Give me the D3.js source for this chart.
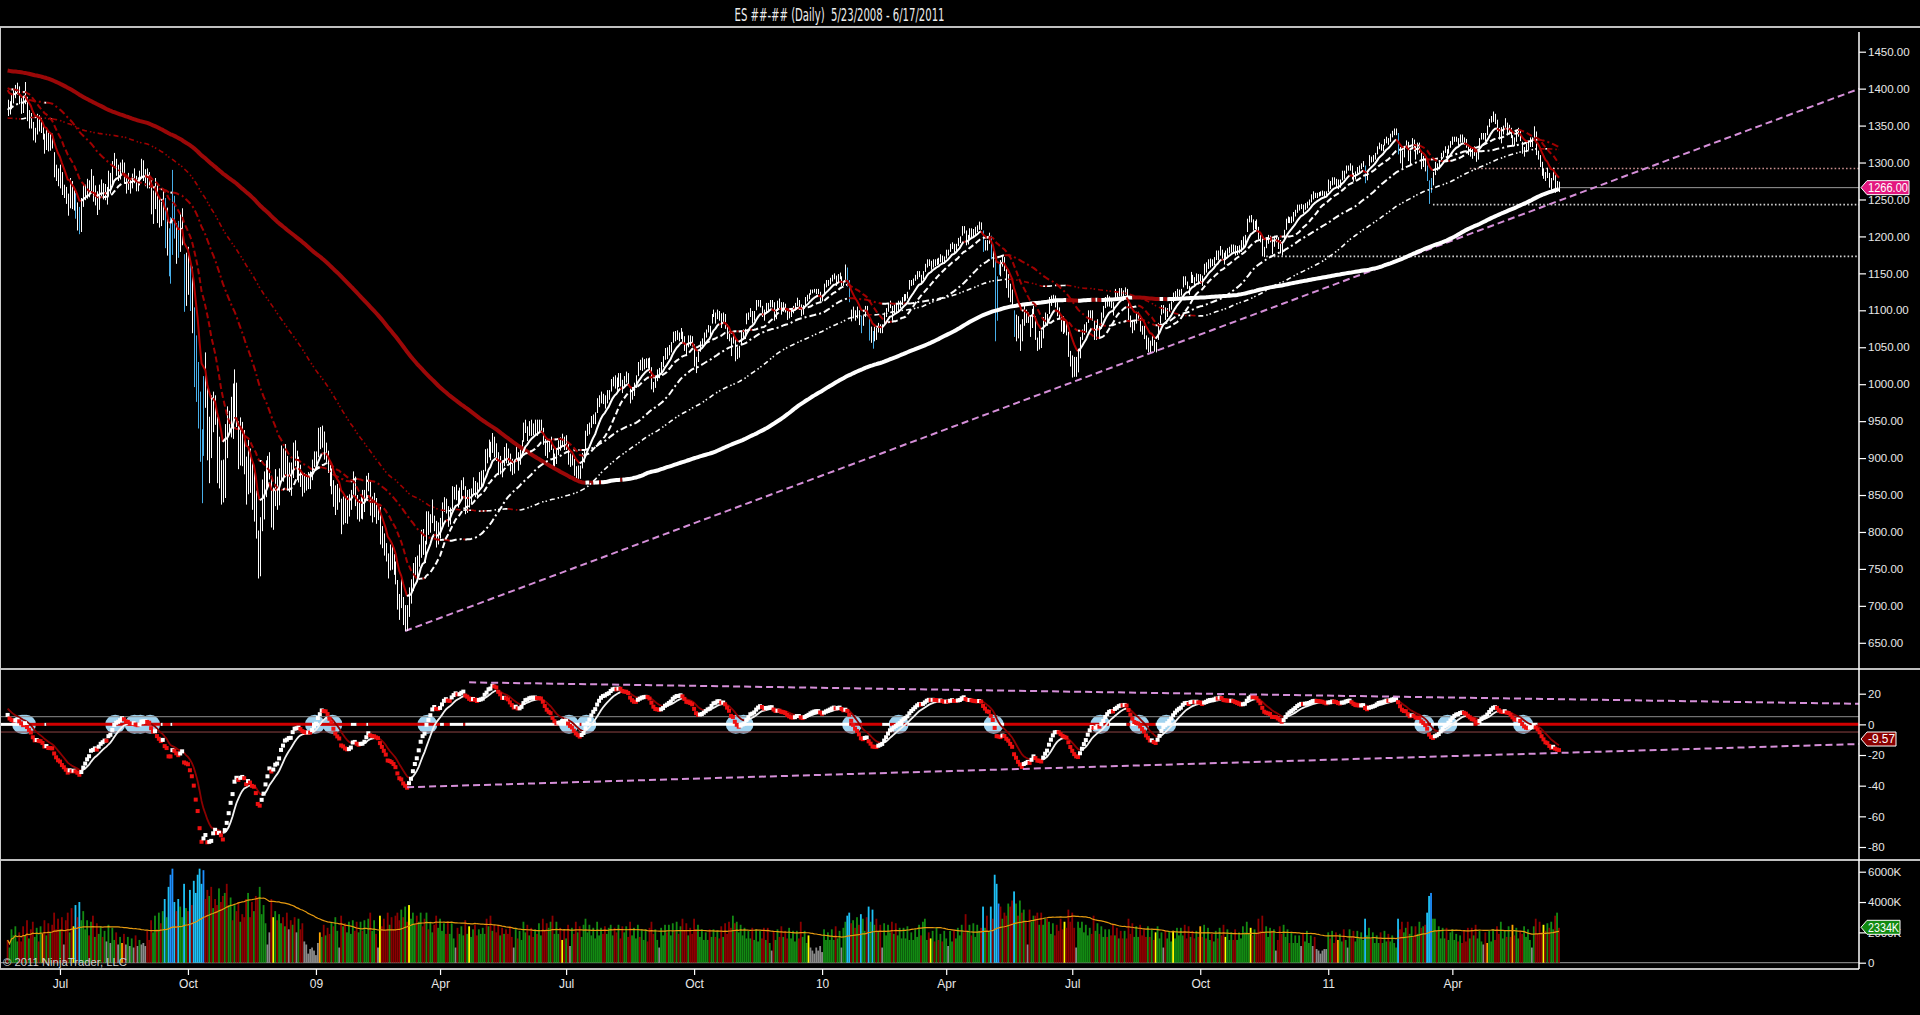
<!DOCTYPE html>
<html><head><meta charset="utf-8">
<script src="https://cdn.jsdelivr.net/npm/d3@7"></script>
<style>html,body{margin:0;padding:0;background:#000;overflow:hidden}</style>
</head><body>
<svg id="c" width="1920" height="1015" style="background:#000;display:block"></svg>
<script>
// ---------------- DATA ----------------
const chartTitle = "ES ##-## (Daily)  5/23/2008 - 6/17/2011";
const copyrightText = "\u00a9 2011 NinjaTrader, LLC";
const firstBarDate = "2008-05-23";

// daily closes before the first visible bar (Aug 2007 - May 22 2008), used for indicator history
const warmupCloses = [
1465,1473,1433,1467,1476,1497,1453,1453,1440,1406,1411,1445,1445,1461,1464,1467,1432,1463,1432,1457,1473,1482,1474,
1473,1489,1472,1478,1453,1451,1471,1484,1481,1477,1490,1519,1529,1518,1526,1518,1525,1531,1526,1527,
1547,1540,1542,1557,1552,1562,1565,1562,1554,1561,1548,1538,1541,1540,1500,1506,1520,1519,1532,1532,1549,1508,1509,
1509,1502,1475,1453,1490,1475,1474,1453,1439,1481,1471,1451,1433,1440,1440,1440,1416,1407,1429,1469,1470,1481,
1472,1462,1485,1508,1504,1516,1478,1486,1467,1445,1454,1455,1484,1497,1497,1496,1476,1478,1468,1470,1468,
1468,1447,1447,1411,1416,1390,1409,1420,1401,1416,1380,1373,1333,1325,1325,1310,1338,1352,1331,1353,1362,1355,1378,
1395,1380,1336,1326,1336,1331,1339,1349,1367,1348,1349,1349,1353,1341,1360,1380,1372,1354,1353,1352,1330,
1331,1326,1304,1333,1294,1273,1320,1308,1315,1288,1276,1330,1298,1330,1330,1349,1341,1352,1316,1316,1322,
1370,1367,1370,1370,1372,1365,1355,1360,1333,1334,1351,1365,1365,1390,1388,1390,1379,1388,1388,1397,1398,1386,
1409,1413,1407,1393,1398,1388,1397,1389,1404,1403,1409,1423,1426,1413,1390,1394];

// visible daily closes, 5/23/2008 - 6/17/2011 (one per weekday)
const closes = [
1375,1375,1386,1390,1399,1400,
1385,1378,1377,1404,1361,1361,1358,1335,1339,1360,1350,1350,1337,1317,1342,1321,1330,1327,1284,1283,1280,
1285,1262,1262,1252,1240,1273,1245,1253,1239,1228,1215,1246,1260,1261,1266,1261,1283,1252,1257,1235,1264,1267,1260,
1261,1249,1284,1266,1296,1305,1290,1285,1292,1298,1278,1266,1278,1266,1277,1282,1267,1271,1281,1300,1283,
1283,1277,1275,1236,1242,1267,1224,1232,1229,1252,1192,1214,1156,1206,1255,1207,1188,1186,1209,1213,1106,1166,
1161,1114,1099,1056,996,985,910,899,1003,998,907,946,940,985,955,896,909,877,848,941,930,954,968,
966,1005,952,905,930,919,898,852,911,873,850,859,806,752,800,851,857,887,888,896,
816,848,870,845,876,909,888,899,873,879,869,913,904,885,887,871,863,868,868,873,870,890,903,
903,931,927,934,906,909,890,870,871,842,843,850,850,805,840,827,831,836,845,874,845,825,
826,838,832,845,868,870,827,833,835,826,826,789,788,778,770,743,773,764,752,735,
700,696,712,682,683,676,720,721,750,756,753,778,795,784,768,823,806,814,832,816,787,798,
811,834,842,835,815,825,856,856,858,841,852,865,869,832,851,843,851,866,857,855,873,873,
878,907,903,919,907,929,909,908,883,893,882,909,908,903,888,887,887,910,893,906,919,
942,944,931,942,940,939,942,940,944,946,923,911,910,918,921,893,896,900,919,918,927,919,
923,896,896,898,881,879,882,880,901,906,932,940,940,951,954,954,976,979,982,979,975,986,987,
1002,1005,1002,997,1010,1007,994,1005,1012,1005,979,989,996,1007,1026,1025,1028,1028,1030,1029,1021,
998,995,1003,1016,1016,1025,1033,1045,1042,1049,1053,1068,1066,1068,1064,1071,1061,1050,1044,1062,1060,1057,
1029,1025,1040,1054,1057,1066,1071,1076,1073,1092,1097,1087,1098,1091,1081,1093,1080,1066,1063,1043,1067,1036,
1042,1046,1066,1069,1069,1093,1093,1099,1087,1094,1110,1110,1110,1096,1091,1106,1105,1110,1110,1091,1096,
1109,1108,1099,1106,1103,1092,1095,1096,1102,1106,1114,1108,1096,1102,1114,1118,1120,1126,1126,1127,1126,1126,1115,
1115,1133,1137,1137,1141,1145,1147,1137,1146,1148,1136,1136,1150,1138,1116,1091,1097,1092,1097,1084,1073,
1089,1103,1098,1063,1066,1056,1070,1068,1078,1075,1075,1094,1099,1106,1109,1094,1105,1102,1105,1109,
1115,1118,1118,1122,1138,1138,1140,1145,1150,1150,1140,1150,1160,1166,1165,1159,1166,1165,1167,1165,1173,1169,1169,
1178,1178,1187,1189,1182,1187,1195,1197,1211,1210,1192,1197,1207,1205,1206,1209,1212,1217,1213,1183,1191,1187,
1202,1173,1166,1128,1111,1160,1156,1171,1157,1136,1137,1121,1116,1072,1088,1074,1075,1068,1104,1089,1089,
1070,1098,1103,1064,1051,1062,1055,1087,1091,1089,1115,1116,1118,1114,1096,1092,1077,1074,1076,1074,1041,1030,
1027,1022,1022,1028,1060,1070,1077,1078,1095,1095,1094,1064,1072,1083,1069,1093,1102,1115,1113,1115,1107,1101,
1125,1120,1127,1125,1121,1127,1121,1090,1083,1079,1079,1092,1094,1075,1071,1067,1051,1055,1047,1064,1048,1049,
1080,1090,1104,1104,1092,1099,1104,1109,1121,1122,1125,1125,1126,1143,1140,1134,1125,1149,1143,1139,1147,1141,
1146,1137,1160,1159,1166,1166,1165,1169,1178,1173,1184,1176,1166,1178,1180,1183,1186,1185,1182,1183,1183,
1185,1194,1198,1221,1225,1223,1213,1218,1213,1200,1198,1179,1178,1196,1198,1198,1180,1198,1198,1189,1187,1180,
1206,1221,1224,1223,1224,1228,1233,1240,1240,1241,1235,1242,1243,1247,1254,1258,1256,1256,1257,1258,1259,1257,1258,
1272,1270,1277,1274,1272,1269,1274,1286,1283,1293,1293,1295,1281,1280,1283,1291,1292,1296,1299,1276,1286,
1307,1304,1307,1310,1319,1324,1320,1321,1329,1332,1328,1336,1340,1343,1343,1315,1307,1306,1319,1327,
1306,1308,1330,1321,1310,1321,1321,1295,1304,1296,1281,1256,1273,1279,1298,1293,1297,1309,1313,1319,1310,1320,1326,
1332,1332,1332,1327,1335,1333,1328,1324,1314,1314,1311,1319,1305,1312,1330,1337,1337,1335,1347,1356,1360,
1361,1356,1348,1335,1340,1346,1357,1342,1348,1337,1329,1328,1340,1343,1333,1316,1316,1320,1325,1331,1331,1345,
1314,1312,1300,1286,1284,1279,1289,1270,1271,1288,1265,1267,1266];

// high - close
const highAboveClose = [
10,8,7,9,6,8,
18,9,12,5,28,10,9,20,8,6,14,10,15,22,6,20,9,12,30,14,12,
12,25,8,15,18,6,30,12,20,18,25,6,10,9,12,15,8,30,12,26,6,10,12,
10,18,5,20,6,8,15,12,8,6,22,15,8,12,8,10,15,9,8,5,20,
8,15,12,40,20,12,45,20,18,10,60,25,55,20,35,48,30,35,22,25,70,12,
25,50,60,48,70,45,80,40,8,45,95,10,45,5,30,60,20,20,50,5,40,10,15,
35,15,50,45,25,30,40,50,15,40,45,30,50,50,20,20,25,10,15,12,
60,12,15,30,10,8,25,20,30,15,25,8,20,25,15,20,18,12,10,8,12,8,6,
6,10,15,10,30,12,20,25,15,28,20,15,10,40,8,20,18,15,12,8,30,25,
18,10,25,12,8,10,42,15,18,20,10,45,20,20,15,28,10,20,18,25,
35,20,25,30,18,25,5,15,8,10,15,5,8,20,20,5,22,10,12,6,28,15,
8,6,5,10,20,8,6,5,6,15,8,5,5,30,6,15,8,8,12,12,8,10,
6,5,10,6,15,5,20,12,25,10,15,6,12,10,18,12,10,6,15,8,5,
6,8,12,8,12,8,10,12,8,6,18,15,12,8,8,20,10,12,5,10,6,10,
8,25,10,8,18,10,8,10,6,5,5,6,8,6,5,8,5,6,8,8,10,6,5,
5,5,10,12,5,8,12,6,5,10,15,6,6,5,4,8,8,6,5,6,15,
25,8,6,4,6,5,5,4,8,4,4,3,6,5,6,5,10,15,10,4,6,8,
25,12,4,4,5,4,3,4,6,3,4,10,3,8,15,4,15,15,10,20,4,25,
8,6,6,5,6,3,4,4,12,5,4,4,4,10,10,4,5,4,4,20,4,
4,8,12,5,6,10,5,5,4,4,3,6,12,5,4,3,3,2,2,2,3,3,10,
6,3,4,4,3,3,3,10,3,3,10,3,12,20,25,10,8,8,8,16,20,
4,3,8,30,12,16,8,8,5,6,6,3,4,3,4,12,4,8,8,4,
3,4,4,3,3,3,3,3,3,3,8,3,3,3,4,8,3,4,3,6,3,5,4,
4,4,3,3,8,3,3,3,3,4,16,5,4,6,4,4,3,3,6,25,4,8,
3,28,15,40,35,4,12,3,15,20,12,15,12,28,6,18,6,20,4,12,8,
22,4,3,28,12,10,18,4,6,6,3,4,3,6,15,12,16,18,12,10,30,15,
12,15,15,20,4,4,4,6,5,5,6,22,8,5,10,4,4,3,8,4,8,10,
4,5,3,5,6,4,8,22,10,8,8,6,4,15,8,12,15,8,12,4,12,8,
3,3,3,3,12,4,5,3,3,4,4,3,3,3,6,5,8,3,5,6,3,8,
3,10,3,6,3,4,4,3,3,8,3,6,12,3,4,3,3,4,6,4,5,
10,6,4,3,3,6,10,3,10,13,4,18,8,3,4,3,16,3,3,10,8,12,
3,3,3,3,3,5,3,3,3,3,8,3,4,3,3,3,3,3,3,3,3,4,3,
5,5,3,6,6,8,3,3,6,3,3,4,15,6,5,3,4,3,3,20,3,
3,4,3,3,3,3,5,3,3,3,5,3,3,3,3,25,14,10,3,3,
22,8,3,10,15,6,6,20,5,10,15,20,6,8,3,6,6,4,3,3,8,3,3,
3,3,3,6,3,5,6,8,10,6,8,3,12,3,3,3,3,5,3,3,3,
8,10,10,12,8,4,3,12,3,10,8,6,3,4,10,12,5,6,4,3,3,4,
28,4,10,15,8,8,4,16,8,5,20,8,8];

// close - low
const lowBelowClose = [
12,10,14,10,12,8,
6,12,10,25,5,15,12,5,12,22,8,10,6,5,25,6,14,8,4,8,12,
20,6,10,8,12,35,8,18,15,20,12,40,20,12,15,8,25,5,15,6,28,15,10,
12,6,30,8,28,12,8,10,15,12,6,8,15,8,12,10,6,10,12,20,8,
15,12,10,6,25,30,6,20,15,30,8,40,10,70,80,10,25,15,30,25,8,60,
40,15,30,60,20,45,15,60,100,30,10,80,40,50,10,30,50,40,8,95,30,20,40,
40,50,10,20,40,30,20,15,60,20,20,45,15,15,60,50,40,40,30,25,
10,45,35,15,40,40,20,25,15,25,20,40,15,15,20,10,15,15,12,15,12,20,15,
12,30,15,20,8,15,10,8,20,8,20,20,10,8,30,15,20,15,15,25,10,8,
12,20,15,18,25,15,5,20,15,15,10,6,10,10,10,6,25,15,10,6,
5,15,15,8,17,10,35,18,30,15,20,25,30,15,10,40,10,15,20,15,8,15,
20,25,15,10,8,15,25,12,15,8,15,20,12,8,25,10,12,15,10,10,18,12,
15,25,10,18,10,22,8,12,6,15,8,20,15,10,6,10,8,15,10,15,18,
20,10,8,12,10,8,10,10,10,12,5,8,10,10,10,5,10,8,15,8,12,8,
12,5,8,8,5,8,10,8,15,12,20,10,8,10,8,8,15,10,8,6,8,12,8,
12,8,8,6,14,10,6,10,10,6,5,10,12,12,15,6,10,8,8,8,6,
5,6,8,12,8,12,10,12,8,10,10,12,8,8,6,10,5,5,6,12,8,6,
5,10,10,10,8,10,8,6,8,10,6,5,10,5,5,10,5,5,5,5,12,5,
8,10,12,8,8,12,6,8,5,8,10,5,6,5,5,10,6,6,6,5,8,
10,5,5,8,6,5,6,5,6,6,8,5,4,8,8,6,5,5,3,3,4,4,3,
3,10,6,4,6,6,5,4,8,6,3,3,12,6,5,6,8,6,8,4,4,
10,12,6,4,10,8,12,8,8,6,6,12,8,8,6,8,10,6,8,6,
8,6,5,6,10,5,6,5,8,5,4,8,8,8,5,4,8,5,6,3,8,5,6,
8,4,8,6,4,8,8,6,10,6,4,8,10,6,6,8,6,8,4,4,10,6,
12,4,8,70,25,12,10,12,4,6,20,10,12,8,30,12,30,10,25,6,6,
6,22,12,4,6,15,6,25,10,10,20,10,8,10,4,4,6,6,6,8,4,6,
18,12,12,12,25,10,10,8,12,8,8,4,12,10,8,18,12,12,8,10,4,8,
12,6,8,6,8,6,6,4,6,10,6,10,8,4,4,6,4,12,4,12,4,6,
20,8,10,8,5,8,6,8,10,6,8,6,6,12,6,5,4,12,6,6,8,6,
10,4,12,8,10,8,5,8,10,5,10,6,4,10,8,6,8,8,8,8,6,
6,10,8,15,6,4,5,8,5,4,6,6,6,12,8,6,4,12,6,6,10,6,
10,12,6,5,6,8,6,8,5,4,4,6,5,5,8,8,4,4,3,3,4,4,3,
12,6,8,4,6,5,8,10,5,8,4,6,4,6,6,6,5,5,5,4,10,
12,4,6,6,8,6,4,6,6,6,4,8,6,6,6,4,8,14,12,8,
4,12,12,6,6,10,8,4,10,8,6,12,14,10,15,4,6,8,6,6,5,8,6,
8,4,4,4,8,6,4,4,4,6,6,10,4,8,14,6,6,6,10,8,6,
6,4,6,4,14,8,10,4,10,4,6,6,12,8,4,4,8,6,8,10,10,12,
4,8,6,4,6,4,10,4,8,12,6,6,6];

// daily volume, in hundreds of thousands of contracts
const volume100K = [
15,10,22,18,24,14,
20,14,24,18,28,16,22,27,17,23,14,24,19,28,18,26,20,25,33,22,29,
22,30,12,28,33,20,36,24,38,30,40,28,34,22,28,18,27,31,17,26,19,24,17,
21,14,25,13,23,15,20,12,17,13,19,12,17,11,16,10,18,11,15,12,13,
11,21,15,28,20,31,22,33,26,34,42,30,50,58,62,40,34,42,37,30,52,36,
34,48,38,54,46,58,62,52,61,42,48,44,50,36,42,38,49,40,44,46,52,38,43,
28,38,34,40,27,32,30,42,46,30,40,34,44,42,50,32,38,26,12,20,
42,30,34,28,32,26,30,24,33,22,28,25,30,20,29,22,26,14,12,6,9,10,8,
5,13,20,17,25,18,23,19,27,24,30,21,10,31,24,26,20,27,19,28,21,27,
20,27,21,28,19,29,33,21,28,19,10,31,24,29,21,33,25,30,22,31,
33,28,35,30,37,27,38,29,33,25,31,27,33,24,29,33,22,27,20,25,31,23,
29,21,26,19,27,19,26,16,10,23,19,24,18,28,19,24,17,22,25,18,22,19,
23,19,29,24,31,21,25,20,25,18,23,19,22,19,24,17,10,23,16,21,15,
27,20,25,18,23,17,22,19,26,18,29,21,26,23,27,31,19,27,19,23,15,22,
16,25,11,23,19,27,20,24,17,25,29,20,25,18,23,16,27,18,23,19,24,19,23,
25,18,23,20,25,16,24,20,24,17,27,18,23,16,25,17,22,15,22,14,23,
27,19,22,15,10,23,18,25,20,25,18,26,21,27,19,24,29,21,26,18,23,19,
29,22,25,17,22,15,20,15,22,17,22,17,21,16,24,17,26,19,27,23,31,26,
27,20,25,18,23,16,21,16,23,15,22,14,21,16,23,15,23,13,8,21,15,
22,17,24,17,21,16,23,16,21,14,21,16,27,17,21,13,18,10,8,6,10,8,11,
7,22,15,20,15,22,15,24,16,21,10,23,27,31,33,26,28,23,30,25,32,
29,21,30,37,27,35,25,29,21,25,10,26,18,25,20,27,19,26,18,23,
16,23,16,24,15,20,15,22,17,25,18,27,29,15,20,16,21,14,23,15,19,14,21,
16,11,21,14,21,16,23,18,25,20,32,21,25,18,26,17,25,21,23,37,23,31,
21,37,29,58,52,39,37,29,33,31,39,37,41,47,39,31,41,33,35,27,12,
35,27,31,31,33,25,33,25,29,29,27,19,26,18,25,21,29,22,27,23,35,27,
33,23,10,27,23,27,20,25,18,23,19,31,21,26,19,24,17,22,17,22,18,25,
18,23,16,21,16,21,16,29,19,26,17,24,17,25,18,22,17,24,17,22,15,20,
24,16,20,10,21,16,21,14,21,16,23,18,23,18,25,16,24,17,21,16,21,17,
24,17,25,16,23,15,19,14,21,16,23,18,25,17,22,15,20,15,22,15,20,
16,24,20,27,19,23,18,22,19,29,21,31,20,24,17,23,21,22,8,15,24,19,
25,17,22,13,20,13,18,13,18,11,19,14,21,13,18,11,17,9,8,6,8,9,9,
20,16,21,13,20,15,19,14,22,15,10,22,17,21,14,21,16,20,15,29,18,
23,16,20,13,18,13,20,13,21,14,19,14,18,13,10,29,22,27,20,23,
27,19,24,17,24,19,27,23,24,25,33,44,46,29,29,21,24,16,23,16,23,15,20,
22,15,19,14,18,13,21,14,23,16,23,18,25,16,21,14,12,20,13,21,14,
22,15,24,19,27,16,21,17,24,17,25,18,23,16,21,19,24,17,22,15,10,24,
29,19,27,20,25,21,26,23,27,22,31,33,23];

const yellowVolumeBars = [34,137,192,207,238,286,413,476,545,592,601,628,641,792];
const orangeVolumeBars = [18,59,161,615,686,763,776];

const xTickDates  = ["2008-07-01","2008-10-01","2009-01-01","2009-04-01","2009-07-01","2009-10-01","2010-01-01","2010-04-01","2010-07-01","2010-10-01","2011-01-01","2011-04-01"];
const xTickLabels = ["Jul","Oct","09","Apr","Jul","Oct","10","Apr","Jul","Oct","11","Apr"];
const priceTicks = [650,700,750,800,850,900,950,1000,1050,1100,1150,1200,1250,1300,1350,1400,1450];
const oscTicks = [20,0,-20,-40,-60,-80];
const volumeTicksK = [0,2000,4000,6000];
const volumeTickLabels = ["0","2000K","4000K","6000K"];

const oscLevels = [5,-5];
const priceLevelValues = [1292,1243,1173];
const priceLevelStartBar = [754,735,649];
const priceTrendBars = [205,955];
const priceTrendValues = [666,1400];
const oscUpperTrendBars = [238,955];
const oscUpperTrendValues = [27.4,13.4];
const oscLowerTrendBars = [206,955];
const oscLowerTrendValues = [-41,-12.8];
const lastPriceLabel = 1266.00;
const oscLabelValue = -9.57;
const volumeLabelK = 2334;

// ---------------- CHART ----------------
const svg = d3.select('#c');
const N = closes.length;
const W = warmupCloses.length;
const allCloses = warmupCloses.concat(closes);

const x = d3.scaleLinear().domain([0, 800]).range([7.6, 1559]);
const yP = d3.scaleLinear().domain([650, 1450]).range([642.8, 51.7]);
const yO = d3.scaleLinear().domain([-80, 20]).range([847, 693.7]);
const yV = d3.scaleLinear().domain([0, 6000]).range([962.7, 871.7]);
const AX = 1859;

const dates = [];
{ const d = new Date(Date.parse(firstBarDate + 'T00:00:00Z'));
  while (dates.length < N) { const wd = d.getUTCDay(); if (wd !== 0 && wd !== 6) dates.push(d.getTime()); d.setUTCDate(d.getUTCDate() + 1); } }
const tickIdx = xTickDates.map(s => { const t = Date.parse(s + 'T00:00:00Z'); return dates.findIndex(v => v >= t); });

function sma(a, n) { const o = new Array(a.length); let s = 0; for (let i = 0; i < a.length; i++) { s += a[i]; if (i >= n) s -= a[i - n]; o[i] = s / Math.min(i + 1, n); } return o; }
function ema(a, n) { const k = 2 / (n + 1); const o = [a[0]]; for (let i = 1; i < a.length; i++) o[i] = a[i] * k + o[i - 1] * (1 - k); return o; }
const e12 = ema(allCloses, 12), e26 = ema(allCloses, 26);
const macdAll = allCloses.map((v, i) => e12[i] - e26[i]);
const sigAll = ema(macdAll, 9);
const macd = macdAll.slice(W), signal = sigAll.slice(W);
const trendMA = sma(allCloses, 50).slice(W);

const maSpecs = [
  { vals: sma(allCloses, 200).slice(W), w: 4, dash: null, dn: '#9b0808' },
  { vals: sma(allCloses, 100).slice(W), w: 1.6, dash: '5,3,1.5,2,1.5,3', dn: '#a00000' },
  { vals: sma(allCloses, 50).slice(W), w: 2, dash: '7,3,2,3', dn: '#a00000' },
  { vals: sma(allCloses, 20).slice(W), w: 2, dash: '6,3', dn: '#a00000' },
  { vals: ema(allCloses, 10).slice(W), w: 2, dash: null, dn: '#b00000' }
];

const volK = volume100K.map(v => v * 100);
const volMA = sma(volK, 50);
const prevClose = i => i === 0 ? warmupCloses[W - 1] : closes[i - 1];
const volColor = volK.map((v, i) => {
  if (yellowVolumeBars.includes(i)) return '#ffff00';
  if (orangeVolumeBars.includes(i)) return '#ffa500';
  const up = closes[i] >= prevClose(i);
  const r = v / volMA[i];
  if (r >= 1.65) return up ? '#1e90ff' : '#1ec0f5';
  if (r <= 0.6) return '#8a8a8a';
  return up ? '#138a13' : '#8b0000';
});

const defs = svg.append('defs');
defs.append('clipPath').attr('id', 'cpP').append('rect').attr('x', 0).attr('y', 28).attr('width', AX).attr('height', 641);
defs.append('clipPath').attr('id', 'cpO').append('rect').attr('x', 0).attr('y', 670).attr('width', AX).attr('height', 189);
defs.append('clipPath').attr('id', 'cpV').append('rect').attr('x', 0).attr('y', 861).attr('width', AX).attr('height', 107);

function slopeRuns(vals, up, dn) {
  const runs = []; let cur = null;
  for (let i = 1; i < vals.length; i++) {
    const c = vals[i] >= vals[i - 1] ? up : dn;
    if (!cur || cur.c !== c) { cur = { c, pts: [[i - 1, vals[i - 1]]] }; runs.push(cur); }
    cur.pts.push([i, vals[i]]);
  }
  return runs;
}

// ---------- price panel ----------
const gP = svg.append('g').attr('clip-path', 'url(#cpP)');
gP.selectAll('.lvl').data(priceLevelValues).join('line')
  .attr('x1', (d, i) => x(priceLevelStartBar[i])).attr('x2', AX)
  .attr('y1', d => yP(d)).attr('y2', d => yP(d))
  .attr('stroke', (d, i) => i === 0 ? '#c88e8e' : '#cfcfcf').attr('stroke-width', 1.6)
  .attr('stroke-dasharray', '1.6,2.2');
gP.append('line').attr('x1', x(N - 1)).attr('x2', AX).attr('y1', yP(lastPriceLabel)).attr('y2', yP(lastPriceLabel))
  .attr('stroke', '#9a9a9a').attr('stroke-width', 1);
gP.append('line').attr('x1', x(priceTrendBars[0])).attr('y1', yP(priceTrendValues[0]))
  .attr('x2', x(priceTrendBars[1])).attr('y2', yP(priceTrendValues[1]))
  .attr('stroke', '#d58fd8').attr('stroke-width', 2).attr('stroke-dasharray', '7,4');
const barCol = volColor.map(c => (c === '#1e90ff' || c === '#1ec0f5') ? '#48aee8' : '#ffffff');
['#ffffff', '#48aee8'].forEach(col => {
  let d = '';
  for (let i = 0; i < N; i++) {
    if (barCol[i] !== col) continue;
    const xx = Math.round(x(i)) + 0.5;
    const h = yP(closes[i] + highAboveClose[i]), l = yP(closes[i] - lowBelowClose[i]);
    d += `M${xx},${h.toFixed(1)}V${l.toFixed(1)}`;
  }
  gP.append('path').attr('d', d).attr('stroke', col).attr('stroke-width', 1).attr('fill', 'none');
});
const lineP = d3.line().x(d => x(d[0])).y(d => yP(d[1]));
maSpecs.forEach(s => {
  gP.append('g').selectAll('path').data(slopeRuns(s.vals, '#ffffff', s.dn)).join('path')
    .attr('d', r => lineP(r.pts)).attr('fill', 'none').attr('stroke', r => r.c)
    .attr('stroke-width', s.w).attr('stroke-dasharray', s.dash).attr('stroke-linejoin', 'round');
});

// ---------- oscillator panel ----------
const gO = svg.append('g').attr('clip-path', 'url(#cpO)');
const crossings = [];
for (let i = 1; i < N; i++) if ((macd[i] >= 0) !== (macd[i - 1] >= 0)) crossings.push(i);
gO.selectAll('ellipse').data(crossings).join('ellipse')
  .attr('cx', i => x(i) - 1).attr('cy', yO(0)).attr('rx', 10).attr('ry', 9.5).attr('fill', '#9fd2ee');
gO.selectAll('.lv').data(oscLevels).join('line')
  .attr('x1', 0).attr('x2', AX).attr('y1', d => yO(d)).attr('y2', d => yO(d))
  .attr('stroke', d => d > 0 ? '#8c8c8c' : '#8e4444').attr('stroke-width', 1);
const lineO = d3.line().x(d => x(d[0])).y(d => yO(d[1]));
gO.append('g').selectAll('path').data(slopeRuns(trendMA, '#ffffff', '#d00000')).join('path')
  .attr('d', r => `M${r.pts[0][0] === 0 ? 0 : x(r.pts[0][0])},${yO(0)}H${r.pts[r.pts.length - 1][0] === N - 1 ? AX : x(r.pts[r.pts.length - 1][0])}`)
  .attr('stroke', r => r.c).attr('stroke-width', 3);
gO.append('g').selectAll('path').data(slopeRuns(signal, '#f2f2f2', '#8b0000')).join('path')
  .attr('d', r => lineO(r.pts)).attr('fill', 'none').attr('stroke', r => r.c).attr('stroke-width', 1.8);
gO.append('g').selectAll('rect').data(macd).join('rect')
  .attr('x', (d, i) => x(i) - 2).attr('y', d => yO(d) - 2).attr('width', 4).attr('height', 4)
  .attr('fill', (d, i) => (i === 0 || d >= macd[i - 1]) ? '#ffffff' : '#ee1010');
[[oscUpperTrendBars, oscUpperTrendValues], [oscLowerTrendBars, oscLowerTrendValues]].forEach(([b, v]) => {
  gO.append('line').attr('x1', x(b[0])).attr('y1', yO(v[0])).attr('x2', x(b[1])).attr('y2', yO(v[1]))
    .attr('stroke', '#d58fd8').attr('stroke-width', 2).attr('stroke-dasharray', '7,4');
});

// ---------- volume panel ----------
const gV = svg.append('g').attr('clip-path', 'url(#cpV)');
gV.append('line').attr('x1', 0).attr('x2', AX).attr('y1', yV(0)).attr('y2', yV(0)).attr('stroke', '#9a9a9a').attr('stroke-width', 1);
gV.selectAll('rect').data(volK).join('rect')
  .attr('x', (d, i) => x(i) - 0.9).attr('width', 1.8)
  .attr('y', d => yV(d)).attr('height', d => yV(0) - yV(d))
  .attr('fill', (d, i) => volColor[i]);
gV.append('path').attr('d', d3.line().x((d, i) => x(i)).y(d => yV(d))(volMA))
  .attr('fill', 'none').attr('stroke', '#e69a10').attr('stroke-width', 1.2);

// ---------- frame ----------
const fr = svg.append('g').attr('stroke', '#ffffff');
fr.append('line').attr('x1', 0).attr('x2', 1920).attr('y1', 27).attr('y2', 27).attr('stroke-width', 1.5);
fr.append('line').attr('x1', 0).attr('x2', 1920).attr('y1', 669).attr('y2', 669).attr('stroke-width', 1.5);
fr.append('line').attr('x1', 0).attr('x2', 1920).attr('y1', 860).attr('y2', 860).attr('stroke-width', 1.5);
fr.append('line').attr('x1', 0).attr('x2', AX).attr('y1', 969).attr('y2', 969).attr('stroke-width', 1.5);
fr.append('line').attr('x1', AX).attr('x2', AX).attr('y1', 32).attr('y2', 969).attr('stroke-width', 1.5);
fr.append('line').attr('x1', 0.5).attr('x2', 0.5).attr('y1', 27).attr('y2', 969).attr('stroke-width', 1).attr('stroke', '#cccccc');

// ---------- axes ----------
function styleAxis(g, size) {
  g.select('.domain').remove();
  g.selectAll('.tick line').attr('stroke', '#ffffff').attr('stroke-width', 1.2);
  g.selectAll('.tick text').attr('fill', '#e8e8e8').style('font-family', '"Liberation Sans", Arial, sans-serif').style('font-size', size + 'px');
}
svg.append('g').attr('transform', `translate(${AX},0)`)
  .call(d3.axisRight(yP).tickValues(priceTicks).tickSize(7).tickPadding(2).tickFormat(d => d.toFixed(2)))
  .call(g => styleAxis(g, 11.5));
svg.append('g').attr('transform', `translate(${AX},0)`)
  .call(d3.axisRight(yO).tickValues(oscTicks).tickSize(7).tickPadding(2).tickFormat(d => String(d)))
  .call(g => styleAxis(g, 11.5));
svg.append('g').attr('transform', `translate(${AX},0)`)
  .call(d3.axisRight(yV).tickValues(volumeTicksK).tickSize(7).tickPadding(2).tickFormat((d, i) => volumeTickLabels[i]))
  .call(g => styleAxis(g, 11.5));
svg.append('g').attr('transform', 'translate(0,969)')
  .call(d3.axisBottom(x).tickValues(tickIdx).tickSize(6).tickPadding(4).tickFormat((d, i) => xTickLabels[i]))
  .call(g => styleAxis(g, 12));

function valueTag(y, text, fill, w) {
  const g = svg.append('g');
  g.append('path').attr('d', `M${AX + 2},${y}L${AX + 8},${y - 7}H${AX + 10 + w}V${y + 7}H${AX + 8}Z`)
    .attr('fill', fill).attr('stroke', '#ffffff').attr('stroke-width', 1);
  g.append('text').attr('x', AX + 9).attr('y', y + 4.2).text(text).attr('fill', '#ffffff')
    .attr('textLength', w).attr('lengthAdjust', 'spacingAndGlyphs')
    .style('font-family', '"Liberation Sans", Arial, sans-serif').style('font-size', '12px');
}
valueTag(yP(lastPriceLabel), lastPriceLabel.toFixed(2), '#e3177f', 40);
valueTag(yO(oscLabelValue), oscLabelValue.toFixed(2), '#8b0000', 27);
valueTag(yV(volumeLabelK), volumeLabelK + 'K', '#118a11', 31);

svg.append('text').attr('x', 839.5).attr('y', 20.5).attr('text-anchor', 'middle')
  .attr('textLength', 210).attr('lengthAdjust', 'spacingAndGlyphs')
  .style('white-space', 'pre').style('font-family', '"Liberation Sans Narrow", "Arial Narrow", "DejaVu Sans Condensed", sans-serif')
  .style('font-size', '17px').attr('fill', '#ececec').text(chartTitle);
svg.append('text').attr('x', 3).attr('y', 966).attr('textLength', 124).attr('lengthAdjust', 'spacingAndGlyphs')
  .style('font-family', '"Liberation Sans", Arial, sans-serif').style('font-size', '11.5px').attr('fill', '#d0d0d0').text(copyrightText);
</script>
</body></html>
